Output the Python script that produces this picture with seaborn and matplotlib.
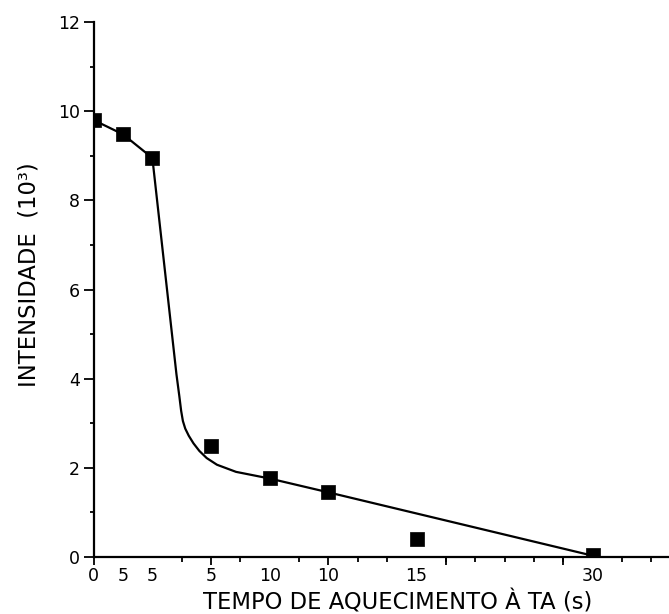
import matplotlib
matplotlib.use("Agg")
import matplotlib.pyplot as plt
import seaborn as sns
import pandas as pd
from matplotlib.ticker import MultipleLocator, FixedLocator, FixedFormatter, NullFormatter

# measured points (x = position on the uneven time axis, y = intensity in 10^3)
point_pos = [0, 1, 2, 4, 6, 8, 11, 17]
point_val = [9.8, 9.48, 8.95, 2.5, 1.77, 1.45, 0.4, 0.05]

# fitted curve
curve_pos = [0, 1, 2, 2.82, 2.92, 2.98, 3.04, 3.12, 3.24, 3.4, 3.6, 3.85, 4.2, 4.85, 6.0, 8.0, 17.0]
curve_val = [9.8, 9.48, 8.95, 4.1, 3.6, 3.28, 3.05, 2.88, 2.72, 2.55, 2.38, 2.22, 2.07, 1.91, 1.76, 1.45, 0.03]

# x tick labels and their positions
xtick_pos = [0, 1, 2, 4, 6, 8, 11, 17]
xtick_lab = ["0", "5", "5", "5", "10", "10", "15", "30"]

sns.set_theme(style="ticks")
plt.rcParams['font.family'] = ['DejaVu Sans']
plt.rcParams['text.color'] = 'black'
plt.rcParams['axes.labelcolor'] = 'black'
plt.rcParams['xtick.color'] = 'black'
plt.rcParams['ytick.color'] = 'black'

fig = plt.figure(figsize=(6.69, 6.14), dpi=100)
ax = fig.add_axes([0.14, 0.0928, 0.86, 0.8714])

pts = pd.DataFrame({"x": point_pos, "y": point_val})
crv = pd.DataFrame({"x": curve_pos, "y": curve_val})

sns.lineplot(data=crv, x="x", y="y", sort=False, color="black", linewidth=1.6, ax=ax)
sns.scatterplot(data=pts, x="x", y="y", marker="s", s=105, color="black",
                edgecolor="black", linewidth=0.5, ax=ax, zorder=5)

ax.set_xlim(0, 19.6)
ax.set_ylim(0, 12)

ax.spines['top'].set_visible(False)
ax.spines['right'].set_visible(False)
for s in ['left', 'bottom']:
    ax.spines[s].set_linewidth(1.6)
    ax.spines[s].set_color('black')

# y ticks
ax.yaxis.set_major_locator(MultipleLocator(2))
ax.yaxis.set_minor_locator(MultipleLocator(1))
ax.tick_params(axis='y', which='major', length=7, width=1.3, labelsize=12.5, pad=3,
               colors='black', labelcolor='black')
ax.tick_params(axis='y', which='minor', length=3, width=1.3, colors='black')

# x: labels at uneven positions (no mark), short ticks every unit
ax.xaxis.set_major_locator(FixedLocator(xtick_pos))
ax.xaxis.set_major_formatter(FixedFormatter(xtick_lab))
ax.xaxis.set_minor_locator(MultipleLocator(1))
ax.tick_params(axis='x', which='major', length=0, labelsize=12.5, pad=7,
               colors='black', labelcolor='black')
ax.tick_params(axis='x', which='minor', length=3.5, width=1.3, colors='black')

# long ticks every 4 units
sec = ax.secondary_xaxis('bottom')
sec.xaxis.set_major_locator(MultipleLocator(4))
sec.xaxis.set_major_formatter(NullFormatter())
sec.tick_params(axis='x', which='major', length=6, width=1.3, colors='black')
sec.tick_params(axis='x', which='minor', length=0)
sec.spines['bottom'].set_visible(False)

ax.set_xlabel("")
ax.set_ylabel("")
fig.text(0.594, 4.5 / 614, "TEMPO DE AQUECIMENTO À TA (s)", ha="center", va="baseline",
         fontsize=16.3, color="black")
fig.text(0.044, 0.552, "INTENSIDADE  (10³)", ha="center", va="center", rotation=90,
         fontsize=16.3, color="black")

fig.savefig("out.png", dpi=100, facecolor="white")
